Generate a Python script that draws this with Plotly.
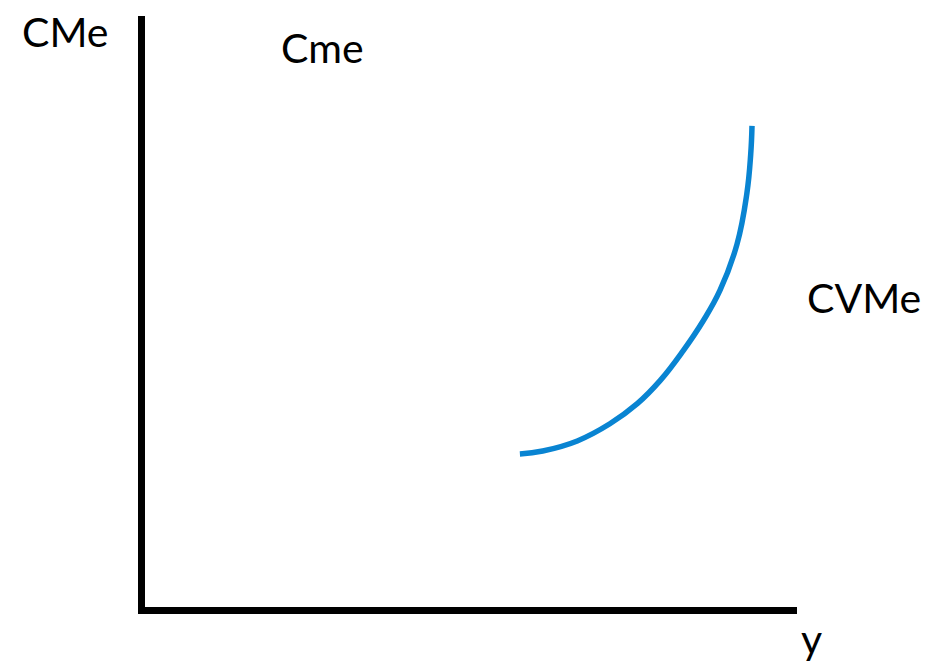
import plotly.graph_objects as go

# average variable cost curve (CVMe)
cvme_x = [57.5, 61.0, 66.3, 71.3, 75.5, 79.0, 82.5, 85.6, 88.2, 90.8, 92.3, 92.9, 93.1]
cvme_y = [25.9, 26.4, 28.1, 31.0, 34.4, 38.3, 43.3, 48.4, 53.6, 61.4, 69.9, 76.6, 81.4]

# text labels, positions as a share of the plot area
label_text = ["CMe", "Cme", "CVMe", "y"]
label_x = [-0.122, 0.272, 1.102, 1.023]
label_y = [0.973, 0.946, 0.524, -0.053]

fig = go.Figure()
fig.add_trace(go.Scatter(x=cvme_x, y=cvme_y, mode="lines",
                         line=dict(color="#0984d2", width=5.5, shape="spline", smoothing=1.2),
                         hoverinfo="skip", showlegend=False))

for t, x, y in zip(label_text, label_x, label_y):
    fig.add_annotation(x=x, y=y, xref="paper", yref="paper", text=t, showarrow=False,
                       xanchor="center", yanchor="middle", borderpad=0,
                       font=dict(family="Lato, sans-serif", size=41, color="black"))

axis_style = dict(showline=True, linewidth=7, linecolor="black", showgrid=False,
                  zeroline=False, showticklabels=False, ticks="", fixedrange=True)
fig.update_xaxes(range=[0, 100], **axis_style)
fig.update_yaxes(range=[0, 100], **axis_style)

fig.update_layout(width=936, height=664,
                  margin=dict(l=137, r=147, t=8, b=65),
                  plot_bgcolor="white", paper_bgcolor="white",
                  showlegend=False)

fig.write_html("out.html")
